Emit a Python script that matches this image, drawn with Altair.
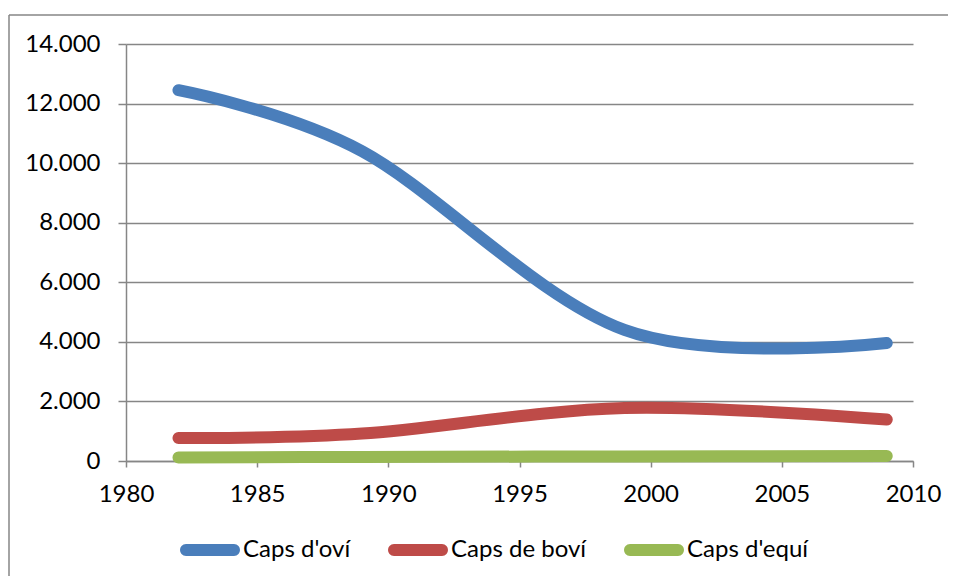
import altair as alt
import pandas as pd

years = [1982, 1989, 1999, 2009]
ovi = [12450, 10400, 4400, 3960]
bovi = [770, 920, 1780, 1390]
equi = [120, 135, 155, 165]
series = ["Caps d'oví", "Caps de boví", "Caps d'equí"]
colors = ["#4A7EBB", "#BE4B48", "#98B954"]
x_ticks = [1980, 1985, 1990, 1995, 2000, 2005, 2010]
y_ticks = [0, 2000, 4000, 6000, 8000, 10000, 12000, 14000]

rows = []
for name, vals in zip(series, [ovi, bovi, equi]):
    for yr, v in zip(years, vals):
        rows.append({"year": yr, "value": v, "series": name})
df = pd.DataFrame(rows)

W, H = 787, 417
GRAY = "#868686"
FONT = "Lato"
FS = 24

# thin capsule outline; stroked with width 6 it looks like a thick line with round ends
capsule = ("M-0.8,-0.1H0.8C0.9333,-0.1 0.9333,0.1 0.8,0.1"
           "H-0.8C-0.9333,0.1 -0.9333,-0.1 -0.8,-0.1Z")

lines = alt.Chart(df).mark_line(
    interpolate="cardinal", tension=0, strokeWidth=12, strokeCap="round", strokeJoin="round"
).encode(
    x=alt.X("year:Q", scale=alt.Scale(domain=[1980, 2010], nice=False, zero=False),
            axis=alt.Axis(values=x_ticks, format="d", title=None, grid=False,
                          domainColor=GRAY, domainWidth=1.5, tickColor=GRAY, tickWidth=1.5,
                          tickSize=6, labelFont=FONT, labelFontSize=FS, labelColor="black",
                          labelPadding=15, labelFlush=False, labelOverlap=False)),
    y=alt.Y("value:Q", scale=alt.Scale(domain=[0, 14000], nice=False),
            axis=alt.Axis(values=y_ticks, title=None, grid=True, gridColor=GRAY, gridWidth=1.5,
                          domainColor=GRAY, domainWidth=1.5, tickColor=GRAY, tickWidth=1.5,
                          tickSize=8, labelFont=FONT, labelFontSize=FS, labelColor="black",
                          labelPadding=18, labelFlush=False, labelOverlap=False,
                          labelExpr="replace(format(datum.value, ','), ',', '.')")),
    color=alt.Color("series:N", scale=alt.Scale(domain=series, range=colors),
                    legend=alt.Legend(orient="none", legendX=51, legendY=473, direction="horizontal",
                                      title=None, symbolType=capsule, symbolSize=3600,
                                      symbolStrokeWidth=6, labelFont=FONT, labelFontSize=FS,
                                      labelColor="black", labelOffset=0, columnPadding=28,
                                      padding=0)),
    order="year:Q",
)

frame_df = pd.DataFrame({"k": [0]})
frame_left = alt.Chart(frame_df).mark_rule(color=GRAY, strokeWidth=1.5).encode(
    x=alt.value(-117), y=alt.value(-29), y2=alt.value(H + 200))
frame_top = alt.Chart(frame_df).mark_rule(color=GRAY, strokeWidth=1.5).encode(
    x=alt.value(-117), x2=alt.value(W + 200), y=alt.value(-29))

chart = alt.layer(frame_left, frame_top, lines).properties(
    width=W, height=H,
    autosize=alt.AutoSizeParams(type="none"),
    padding={"left": 118, "top": 36, "right": 35, "bottom": 115},
).configure_view(strokeWidth=0)

chart.save("out.html", embed_options={"renderer": "svg", "actions": False})
